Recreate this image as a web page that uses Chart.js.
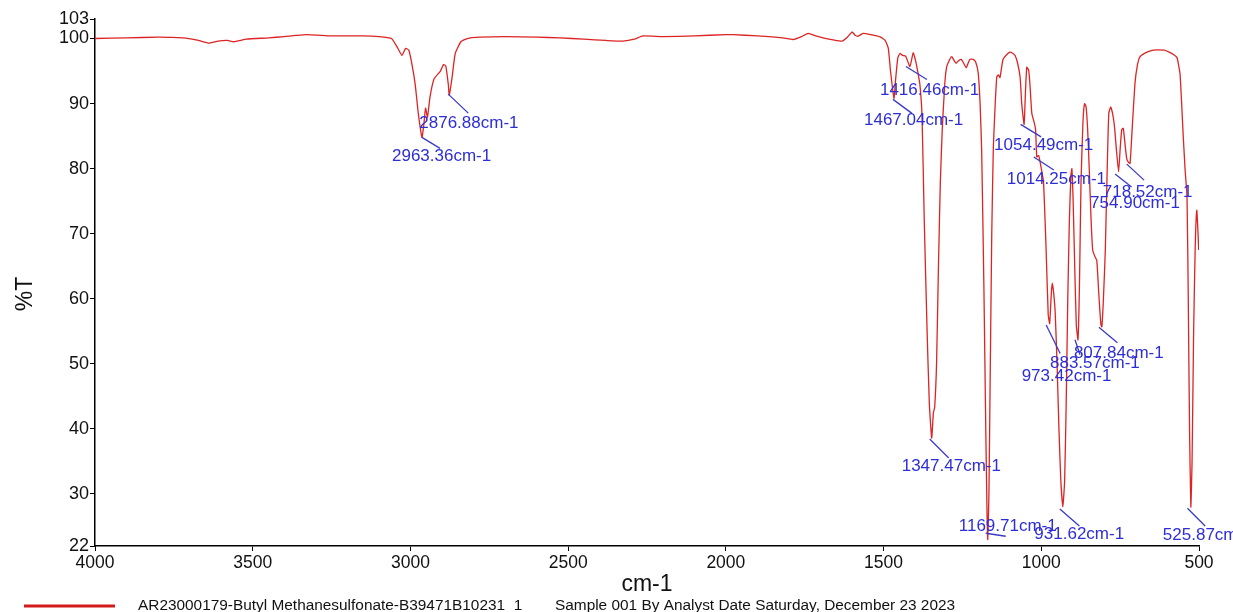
<!DOCTYPE html>
<html>
<head>
<meta charset="utf-8">
<title>IR spectrum</title>
<script src="https://cdn.jsdelivr.net/npm/chart.js@4/dist/chart.umd.min.js"></script>
<style>
  html, body { margin: 0; padding: 0; background: #fff; }
  canvas { display: block; }
</style>
</head>
<body>
<canvas id="irChart" width="1233" height="612"></canvas>
<script>
// spectrum (wavenumber cm-1, %T)
const wavenumbers = [
  4000, 3900, 3800, 3720, 3680, 3640, 3610, 3580, 3560, 3520, 3450, 3400, 3330, 3250, 3150, 3100,
  3060, 3040, 3027, 3015, 3005, 2995, 2985, 2975, 2963.36, 2957, 2952, 2946, 2938, 2925, 2905, 2895,
  2888, 2880, 2876.88, 2868, 2858, 2840, 2820, 2780, 2700, 2600, 2526, 2450, 2380, 2326, 2290, 2263,
  2200, 2100, 2000, 1977, 1900, 1820, 1787, 1760, 1739, 1715, 1692, 1660, 1632, 1615, 1600, 1590,
  1581, 1565, 1540, 1511, 1495, 1485, 1478, 1467.04, 1462, 1455, 1448, 1440, 1430, 1416.46, 1406, 1398,
  1392, 1385, 1378, 1371, 1362, 1355, 1347.47, 1342, 1338, 1332, 1326, 1320, 1314, 1306, 1300, 1290,
  1284, 1276, 1270, 1262, 1254, 1246, 1238, 1232, 1226, 1216, 1208, 1200, 1194, 1189, 1182, 1176,
  1172, 1169.71, 1166, 1162, 1157, 1152, 1146, 1141, 1136, 1131, 1126, 1121, 1110, 1099, 1090, 1083,
  1075, 1067, 1062, 1054.49, 1050, 1046, 1040, 1036, 1030, 1022, 1018, 1014.25, 1008, 1000, 993, 985,
  978, 973.42, 968, 965, 961, 956, 950, 944, 938, 931.62, 926, 921, 916, 911, 906, 903,
  899, 894, 889, 883.57, 879, 874, 868, 863, 858, 853, 848, 842, 837, 830, 824, 818,
  811, 807.84, 803, 797, 791, 786, 780, 774, 768, 762, 754.90, 750, 745, 740, 735, 729,
  724, 718.52, 712, 703, 695, 687, 670, 645, 630, 610, 595, 580, 570, 565, 560, 555,
  550, 544, 538, 534, 530, 525.87, 522, 517, 512, 507, 503, 501
];
const transmittance = [
  100.0, 100.1, 100.2, 100.1, 99.8, 99.3, 99.6, 99.7, 99.5, 99.9, 100.1, 100.3, 100.6, 100.4, 100.4, 100.3,
  100.0, 98.5, 97.4, 98.5, 98.2, 96.0, 93.0, 88.5, 84.8, 87.0, 89.3, 87.9, 91.0, 93.8, 95.0, 96.0,
  95.8, 93.0, 91.3, 94.0, 97.7, 99.5, 100.0, 100.2, 100.3, 100.2, 100.1, 99.9, 99.7, 99.6, 99.9, 100.4,
  100.3, 100.4, 100.6, 100.6, 100.4, 100.1, 99.85, 100.3, 100.8, 100.4, 100.1, 99.8, 99.6, 100.2, 101.0, 100.5,
  100.35, 100.8, 100.6, 100.25, 99.7, 98.5, 95.0, 90.8, 93.6, 97.0, 97.7, 97.4, 97.3, 95.7, 97.8, 96.5,
  95.0, 93.0, 88.0, 72.0, 55.0, 44.0, 38.6, 42.5, 43.3, 50.0, 65.0, 78.0, 86.0, 93.0, 95.6, 96.8,
  97.2, 96.6, 96.2, 96.6, 96.8, 96.2, 95.5, 96.2, 96.8, 96.8, 96.4, 94.7, 90.0, 82.8, 62.0, 40.0,
  27.0, 23.0, 30.0, 48.0, 70.0, 83.3, 90.0, 94.1, 94.4, 94.0, 95.5, 96.8, 97.5, 97.9, 97.7, 97.4,
  96.2, 94.0, 90.0, 86.8, 92.0, 95.6, 95.1, 93.0, 88.5, 87.0, 86.0, 81.8, 82.0, 80.0, 78.0, 68.0,
  57.5, 56.2, 61.0, 62.4, 61.0, 58.0, 50.0, 40.0, 32.0, 28.0, 32.0, 44.0, 60.0, 72.0, 79.0, 80.0,
  75.0, 65.0, 56.0, 53.7, 62.0, 78.0, 87.0, 90.0, 89.5, 86.0, 80.0, 72.0, 67.5, 66.5, 65.9, 61.0,
  56.0, 55.7, 60.0, 67.5, 80.0, 88.5, 89.5, 88.5, 86.5, 83.0, 79.5, 83.0, 86.0, 86.2, 84.0, 81.5,
  81.0, 80.8, 86.0, 93.1, 96.0, 97.2, 97.8, 98.2, 98.25, 98.2, 97.9, 97.5, 97.1, 96.0, 94.5, 90.0,
  85.0, 79.8, 75.7, 60.0, 40.0, 28.0, 35.0, 55.0, 68.0, 73.6, 70.0, 67.5
];

// picked peaks
const peakWavenumbers = [2963.36, 2876.88, 1467.04, 1416.46, 1347.47, 1169.71, 1054.49, 1014.25,
  973.42, 931.62, 883.57, 807.84, 754.90, 718.52, 525.87];
const peakValues = [84.8, 91.3, 90.8, 95.7, 38.6, 23.5, 86.8, 81.8,
  56.2, 28.0, 53.7, 55.7, 79.5, 80.8, 28.0];

const xTicks = [4000, 3500, 3000, 2500, 2000, 1500, 1000, 500];
const yTicks = [22, 30, 40, 50, 60, 70, 80, 90, 100, 103];

const sampleName = "AR23000179-Butyl Methanesulfonate-B39471B10231_1";
const sampleInfo = "Sample 001 By Analyst Date Saturday, December 23 2023";

// leader line start/end and text offset from each peak, px
const peakLabelLayout = [
  [0, 0, 18, 11, -30, 19],
  [-1, -1, 19, 18, -30, 28],
  [-1, 1, 18, 15, -30, 22],
  [-4, 0, 17, 13, -30, 24],
  [-2, 1, 17, 20, -30, 28],
  [-2, -3, 18, 0, -29, -10],
  [-3.5, 0, 17, 12.5, -30, 21],
  [-3, 0, 17, 13, -30, 22],
  [-3.5, 1.5, 10.5, 30, -28, 53],
  [-3, 2, 16.5, 19, -28.5, 27],
  [-3, 0, 2, 15, -28, 24],
  [-3, 0.5, 15.5, 16, -28, 27],
  [-3.5, 2, 13, 15, -28.5, 31],
  [-3.3, 0.7, 14, 16.7, -27.3, 29],
  [-3.4, 1.3, 14.3, 19, -28, 28]
];

const FONT = "'Liberation Sans', Arial, sans-serif";

const peakLabels = {
  id: "peakLabels",
  afterDatasetsDraw(chart) {
    const ctx = chart.ctx;
    const xs = chart.scales.x;
    const ys = chart.scales.y;
    ctx.save();
    ctx.lineWidth = 1.3;
    ctx.strokeStyle = "#3a3ac8";
    ctx.fillStyle = "#2e2ed6";
    ctx.font = "17px " + FONT;
    ctx.textAlign = "left";
    ctx.textBaseline = "middle";
    peakWavenumbers.forEach((w, i) => {
      const px = xs.getPixelForValue(w);
      const py = ys.getPixelForValue(peakValues[i]);
      const l = peakLabelLayout[i];
      ctx.beginPath();
      ctx.moveTo(px + l[0], py + l[1]);
      ctx.lineTo(px + l[2], py + l[3]);
      ctx.stroke();
      ctx.fillText(w.toFixed(2) + "cm-1", px + l[4], py + l[5]);
    });
    ctx.restore();
  }
};

const titlesAndFooter = {
  id: "titlesAndFooter",
  afterDraw(chart) {
    const ctx = chart.ctx;
    const area = chart.chartArea;
    ctx.save();
    ctx.fillStyle = "#111";
    ctx.textBaseline = "middle";

    // x title
    ctx.font = "23px " + FONT;
    ctx.textAlign = "center";
    ctx.fillText("cm-1", (area.left + area.right) / 2, 585);

    // y title
    ctx.save();
    ctx.translate(26, 294);
    ctx.rotate(-Math.PI / 2);
    ctx.font = "23px " + FONT;
    ctx.fillText("%T", 0, 0);
    ctx.restore();

    // footer legend
    ctx.strokeStyle = "#d41a1a";
    ctx.lineWidth = 3;
    ctx.beginPath();
    ctx.moveTo(24, 606);
    ctx.lineTo(115, 606);
    ctx.stroke();
    ctx.font = "15.4px " + FONT;
    ctx.textAlign = "left";
    ctx.textBaseline = "alphabetic";
    ctx.fillText(sampleName, 138, 610);
    ctx.fillText(sampleInfo, 555, 610);
    ctx.restore();
  }
};

new Chart(document.getElementById("irChart"), {
  type: "line",
  data: {
    datasets: [{
      data: wavenumbers.map((w, i) => ({ x: w, y: transmittance[i] })),
      borderColor: "#dc2424",
      borderWidth: 1.3,
      pointRadius: 0,
      tension: 0.15,
      fill: false
    }]
  },
  options: {
    responsive: false,
    animation: false,
    devicePixelRatio: 1,
    layout: { padding: { left: 0, right: 34, top: 19, bottom: 0 } },
    plugins: {
      legend: { display: false },
      tooltip: { enabled: false }
    },
    scales: {
      x: {
        type: "linear",
        reverse: true,
        min: 500,
        max: 4000,
        afterBuildTicks: (scale) => { scale.ticks = xTicks.map(v => ({ value: v })); },
        afterFit: (scale) => { scale.height = 66; },
        grid: { drawOnChartArea: false, drawTicks: true, tickLength: 5, color: "#000", lineWidth: 1 },
        border: { display: true, color: "#000", width: 1.5 },
        ticks: {
          color: "#111",
          font: { family: FONT, size: 17.5 },
          padding: 2,
          maxRotation: 0,
          autoSkip: false,
          callback: (v) => String(v)
        }
      },
      y: {
        min: 22,
        max: 103,
        afterBuildTicks: (scale) => { scale.ticks = yTicks.map(v => ({ value: v })); },
        afterFit: (scale) => { scale.width = 95; },
        grid: { drawOnChartArea: false, drawTicks: true, tickLength: 5, color: "#000", lineWidth: 1 },
        border: { display: true, color: "#000", width: 1.5 },
        ticks: {
          color: "#111",
          font: { family: FONT, size: 18 },
          padding: 1,
          autoSkip: false,
          callback: (v) => String(v)
        }
      }
    }
  },
  plugins: [peakLabels, titlesAndFooter]
});
</script>
</body>
</html>
